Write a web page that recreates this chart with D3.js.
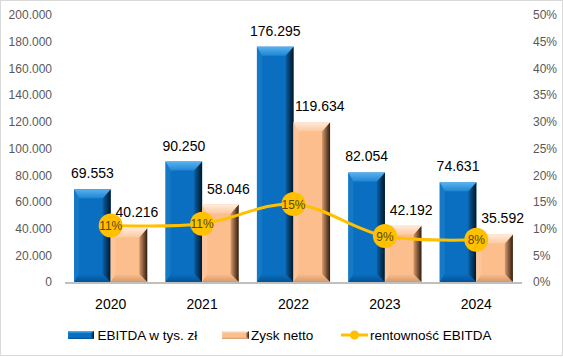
<!DOCTYPE html>
<html>
<head>
<meta charset="utf-8">
<script src="https://cdn.jsdelivr.net/npm/d3@7"></script>
<style>
  html, body { margin: 0; padding: 0; background: #fff; }
  svg { display: block; font-family: "Liberation Sans", Arial, sans-serif; }
</style>
</head>
<body>
<svg id="chart" width="563" height="357"></svg>
<script>
// ---------- data ----------
const years = ["2020", "2021", "2022", "2023", "2024"];
const ebitda = [69553, 90250, 176295, 82054, 74631];
const zysk = [40216, 58046, 119634, 42192, 35592];
const rentownosc = [0.106, 0.109, 0.146, 0.086, 0.079];
const leftTicks = [0, 20000, 40000, 60000, 80000, 100000, 120000, 140000, 160000, 180000, 200000];
const rightTicks = [0, 0.05, 0.10, 0.15, 0.20, 0.25, 0.30, 0.35, 0.40, 0.45, 0.50];
const seriesNames = ["EBITDA w tys. zł", "Zysk netto", "rentowność EBITDA"];

// ---------- setup ----------
const W = 563, H = 357;
const plot = { left: 65, right: 522, top: 15, bottom: 282 };
const svg = d3.select("#chart");
const plLocale = d3.formatLocale({ decimal: ",", thousands: ".", grouping: [3], currency: ["", ""] });
const fmtNum = plLocale.format(",.0f");
const fmtPct = d3.format(".0%");

svg.append("rect").attr("x", 0.5).attr("y", 0.5).attr("width", W - 1).attr("height", H - 2)
  .attr("fill", "#fff").attr("stroke", "#D9D9D9").attr("stroke-width", 1);

const x0 = d3.scaleBand().domain(years).range([plot.left, plot.right]).padding(0);
const keys = ["ebitda", "zysk"];
const x1 = d3.scaleBand().domain(keys).range([0, x0.bandwidth()]).paddingInner(0).paddingOuter(0.25);
const y = d3.scaleLinear().domain([0, 200000]).range([plot.bottom, plot.top]);
const y2 = d3.scaleLinear().domain([0, 0.5]).range([plot.bottom, plot.top]);

// ---------- gradients ----------
const defs = svg.append("defs");
const palettes = {
  ebitda: { face: "#0A6FC0", top1: "#5AB2F0", top2: "#1F86D2", left: "#1679C6", right1: "#0A5FA6", right2: "#001626", bottom: "#045293" },
  zysk:   { face: "#FDBE8E", top1: "#FFEBDB", top2: "#FCC9A0", left: "#FCC59A", right1: "#D8996A", right2: "#2E1C10", bottom: "#D29A6C" }
};
Object.entries(palettes).forEach(([k, p]) => {
  const gt = defs.append("linearGradient").attr("id", "top-" + k).attr("x1", 0).attr("y1", 0).attr("x2", 0).attr("y2", 1);
  gt.append("stop").attr("offset", "0%").attr("stop-color", p.top1);
  gt.append("stop").attr("offset", "100%").attr("stop-color", p.top2);
  const gr = defs.append("linearGradient").attr("id", "right-" + k).attr("x1", 0).attr("y1", 0).attr("x2", 1).attr("y2", 0);
  gr.append("stop").attr("offset", "0%").attr("stop-color", p.right1);
  gr.append("stop").attr("offset", "100%").attr("stop-color", p.right2);
  const gb = defs.append("linearGradient").attr("id", "bottom-" + k).attr("x1", 0).attr("y1", 0).attr("x2", 0).attr("y2", 1);
  gb.append("stop").attr("offset", "0%").attr("stop-color", p.face);
  gb.append("stop").attr("offset", "100%").attr("stop-color", p.bottom);
});

function bevelBar(g, key, bx, by, bw, bh, T, L, R, B) {
  const p = palettes[key];
  const xa = bx, xb = bx + bw, ya = by, yb = by + bh;
  const pts = a => a.map(q => q.join(",")).join(" ");
  g.append("rect").attr("x", xa).attr("y", ya).attr("width", bw).attr("height", bh).attr("fill", p.face);
  g.append("polygon").attr("points", pts([[xa, ya], [xa + L, ya + T], [xa + L, yb - B], [xa, yb]])).attr("fill", p.left);
  g.append("polygon").attr("points", pts([[xa, yb], [xb, yb], [xb - R, yb - B], [xa + L, yb - B]])).attr("fill", "url(#bottom-" + key + ")");
  g.append("polygon").attr("points", pts([[xb, ya], [xb, yb], [xb - R, yb - B], [xb - R, ya + T]])).attr("fill", "url(#right-" + key + ")");
  g.append("polygon").attr("points", pts([[xa, ya], [xb, ya], [xb - R, ya + T], [xa + L, ya + T]])).attr("fill", "url(#top-" + key + ")");
}

// ---------- axes ----------
const fontTick = 12;
const gl = svg.append("g").attr("transform", `translate(${plot.left - 13},0)`)
  .call(d3.axisLeft(y).tickValues(leftTicks).tickFormat(fmtNum).tickSize(0).tickPadding(0));
gl.select(".domain").remove();
gl.selectAll("text").attr("fill", "#595959").style("font-size", fontTick + "px").style("font-family", "Liberation Sans, Arial, sans-serif");

const gr = svg.append("g").attr("transform", `translate(${plot.right + 11},0)`)
  .call(d3.axisRight(y2).tickValues(rightTicks).tickFormat(fmtPct).tickSize(0).tickPadding(0));
gr.select(".domain").remove();
gr.selectAll("text").attr("fill", "#595959").style("font-size", fontTick + "px").style("font-family", "Liberation Sans, Arial, sans-serif");

const gx = svg.append("g").attr("transform", `translate(0,${plot.bottom})`)
  .call(d3.axisBottom(x0).tickSize(0).tickPadding(0));
gx.select(".domain").remove();
gx.selectAll("text").attr("fill", "#000").attr("dy", 0).attr("y", 26.5)
  .style("font-size", "14px").style("font-family", "Liberation Sans, Arial, sans-serif");

// baseline
svg.append("line").attr("x1", plot.left).attr("x2", plot.right).attr("y1", plot.bottom + 1).attr("y2", plot.bottom + 1)
  .attr("stroke", "#BFBFBF").attr("stroke-width", 2);

// ---------- bars ----------
const barsG = svg.append("g");
years.forEach((yr, i) => {
  [["ebitda", ebitda[i]], ["zysk", zysk[i]]].forEach(([k, v]) => {
    const bx = x0(yr) + x1(k), bw = x1.bandwidth();
    const by = y(v), bh = y(0) - y(v);
    bevelBar(barsG, k, bx, by, bw, bh, 9, 5, 8, 8);
  });
});

// ---------- line ----------
const lineData = years.map((yr, i) => [x0(yr) + x0.bandwidth() / 2, y2(rentownosc[i])]);
svg.append("path").attr("d", d3.line().curve(d3.curveCatmullRom.alpha(0.5))(lineData))
  .attr("fill", "none").attr("stroke", "#FFC000").attr("stroke-width", 3);
svg.append("g").selectAll("circle").data(lineData).join("circle")
  .attr("cx", d => d[0]).attr("cy", d => d[1]).attr("r", 12).attr("fill", "#FFC000");
svg.append("g").selectAll("text").data(rentownosc).join("text")
  .attr("x", (d, i) => lineData[i][0]).attr("y", (d, i) => lineData[i][1] + 4.5)
  .attr("text-anchor", "middle").attr("fill", "#5A4800").style("font-size", "12px")
  .text(d => fmtPct(d));

// ---------- bar labels ----------
const lblG = svg.append("g").style("font-size", "14px").attr("fill", "#000").attr("text-anchor", "middle");
years.forEach((yr, i) => {
  lblG.append("text").attr("x", x0(yr) + x1("ebitda") + x1.bandwidth() / 2).attr("y", y(ebitda[i]) - 11).text(fmtNum(ebitda[i]));
  lblG.append("text").attr("x", x0(yr) + x1("zysk") + x1.bandwidth() / 2 + 8).attr("y", y(zysk[i]) - 11).text(fmtNum(zysk[i]));
});

// ---------- legend ----------
const lg = svg.append("g").style("font-size", "13.5px");
const legY = 335;
bevelBar(lg, "ebitda", 68, legY - 4, 26, 8, 2, 1, 3, 2);
lg.append("text").attr("x", 97.5).attr("y", legY + 5).text(seriesNames[0]);
bevelBar(lg, "zysk", 222, legY - 4, 27, 8, 2, 1, 3, 2);
lg.append("text").attr("x", 251).attr("y", legY + 5).text(seriesNames[1]);
lg.append("line").attr("x1", 341).attr("x2", 368).attr("y1", legY).attr("y2", legY).attr("stroke", "#FFC000").attr("stroke-width", 3);
lg.append("circle").attr("cx", 354.5).attr("cy", legY).attr("r", 4.5).attr("fill", "#FFC000");
lg.append("text").attr("x", 370).attr("y", legY + 5).text(seriesNames[2]);
</script>
</body>
</html>
